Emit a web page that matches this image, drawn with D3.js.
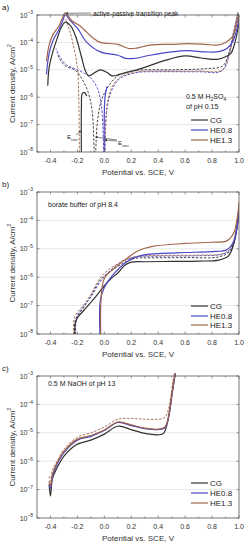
<!DOCTYPE html>
<html>
<head>
<meta charset="utf-8">
<script src="https://cdn.jsdelivr.net/npm/d3@7"></script>
<style>
  body{margin:0;background:#fff;}
  svg{display:block;font-family:"Liberation Sans",Arial,sans-serif;}
</style>
</head>
<body>
<svg id="chart" width="247" height="550"></svg>
<script>
// ---- data (potential V vs SCE, current density A/cm2) ----
const xTicks = [-0.4, -0.2, 0.0, 0.2, 0.4, 0.6, 0.8, 1.0];
const yExps = [-3, -4, -5, -6, -7, -8];
const seriesNames = ['CG', 'HE0.8', 'HE1.3'];
const seriesColors = ['#333333', '#4b46c6', '#a0644a'];

// panel a: 0.5 M H2SO4
const aCG = [[-0.42,2.6e-6],[-0.41,1.2e-5],[-0.38,5e-5],[-0.35,1.4e-4],[-0.32,3.5e-4],[-0.29,5.5e-4],[-0.25,4e-4],[-0.21,1.5e-4],[-0.17,3e-5],[-0.14,9e-6],[-0.115,6e-6],[-0.07,8e-6],[-0.03,1e-5],[0.02,8e-6],[0.06,6e-6],[0.12,7e-6],[0.27,1.1e-5],[0.45,2.2e-5],[0.6,3.2e-5],[0.72,2.7e-5],[0.84,2.4e-5],[0.9,3e-5],[0.94,4e-5],[0.97,1e-4],[1.0,5e-4]];
const aHE08 = [[-0.43,6.8e-6],[-0.41,4e-5],[-0.38,1.2e-4],[-0.34,2.8e-4],[-0.31,6e-4],[-0.29,1e-3],[-0.25,6e-4],[-0.2,3.3e-4],[-0.13,1e-4],[-0.03,4.5e-5],[0.1,3.4e-5],[0.16,2.6e-5],[0.22,2.6e-5],[0.34,3.4e-5],[0.5,4.5e-5],[0.62,5e-5],[0.75,4.5e-5],[0.85,4.6e-5],[0.91,6e-5],[0.95,1e-4],[0.98,2.5e-4],[1.0,8e-4]];
const aHE13 = [[-0.43,2e-5],[-0.41,8e-5],[-0.38,2e-4],[-0.34,3.8e-4],[-0.31,8e-4],[-0.29,1.2e-3],[-0.24,6e-4],[-0.18,4e-4],[-0.08,1.4e-4],[-0.03,1e-4],[0.1,8.5e-5],[0.18,6e-5],[0.24,6.2e-5],[0.34,8e-5],[0.5,8.5e-5],[0.62,9e-5],[0.75,8.5e-5],[0.84,8e-5],[0.9,1e-4],[0.95,1.6e-4],[0.98,4e-4],[1.0,1.1e-3]];
const aCGrev = [[1.0,1.2e-3],[0.97,3e-4],[0.93,5e-5],[0.88,1.4e-5],[0.75,1.1e-5],[0.5,1e-5],[0.3,1e-5],[0.2,9e-6],[0.1,6e-6],[0.03,2.5e-6],[-0.02,8e-7],[-0.05,1.5e-7],[-0.07,5e-9],[-0.09,3e-7],[-0.12,1.5e-6],[-0.17,5e-6],[-0.22,1e-5],[-0.28,1.3e-5],[-0.32,2e-5],[-0.35,4e-5]];
const aHE08rev = [[1.0,1.6e-3],[0.96,2.5e-4],[0.92,3e-5],[0.87,9e-6],[0.7,8.5e-6],[0.4,8.5e-6],[0.25,8e-6],[0.12,5e-6],[0.06,2e-6],[0.02,4e-7],[0.0,5e-9],[-0.02,4e-7],[-0.05,2e-6],[-0.1,5e-6],[-0.16,8e-6],[-0.22,1.1e-5],[-0.28,1.5e-5],[-0.33,3e-5],[-0.36,6e-5]];
const aHE13rev = [[1.0,2e-3],[0.97,4e-4],[0.93,4e-5],[0.88,1e-5],[0.7,9e-6],[0.4,9e-6],[0.25,8.5e-6],[0.12,5.5e-6],[0.06,2.5e-6],[0.02,5e-7],[0.005,5e-9]];
const aHE13cat = [[-0.185,5e-9],[-0.19,1e-6],[-0.2,1.2e-5],[-0.23,8e-5],[-0.26,3e-4],[-0.29,8e-4]];
const aCGecorr = [[-0.17,5e-9],[-0.17,5e-7],[-0.165,1.3e-6],[-0.15,1.5e-6],[-0.13,1.1e-6]];
const aHE08ecorr = [[0.0,5e-9],[0.0,3e-7],[0.005,1e-6],[0.02,2.5e-6]];

// panel b: borate buffer pH 8.4
const bCG = [[-0.215,5e-9],[-0.21,3e-8],[-0.15,7e-8],[-0.1,1.3e-7],[-0.05,2.5e-7],[0.0,5e-7],[0.05,9e-7],[0.1,1.4e-6],[0.15,2.6e-6],[0.2,3.4e-6],[0.3,3.5e-6],[0.5,3.6e-6],[0.7,3.7e-6],[0.85,4e-6],[0.92,5.5e-6],[0.96,1.4e-5],[0.99,8e-5],[1.0,2.5e-4]];
const bHE08 = [[-0.03,5e-9],[-0.03,1.5e-7],[0.0,4.3e-7],[0.07,1.3e-6],[0.17,3.6e-6],[0.27,5.8e-6],[0.4,6.8e-6],[0.6,7.4e-6],[0.8,8e-6],[0.91,9.3e-6],[0.96,1.8e-5],[0.99,8e-5],[1.0,2e-4]];
const bHE13 = [[-0.025,5e-9],[-0.025,1.5e-7],[0.0,9e-7],[0.07,2e-6],[0.17,4.7e-6],[0.25,8.5e-6],[0.35,1.2e-5],[0.6,1.55e-5],[0.8,1.7e-5],[0.91,1.9e-5],[0.96,3.5e-5],[0.99,1.5e-4],[1.0,4.5e-4]];
const bCGrev = [[-0.22,5e-9],[-0.215,3e-8],[-0.15,9e-8],[-0.1,2.2e-7],[-0.02,9e-7],[0.1,2.4e-6],[0.22,4.5e-6],[0.35,4.8e-6],[0.6,4.9e-6],[0.85,5.2e-6],[0.93,8e-6],[0.97,2.5e-5],[1.0,2e-4]];
const bHE08rev = [[-0.21,5e-9],[-0.205,4e-8],[-0.15,1e-7],[-0.1,2e-7],[-0.02,8e-7],[0.1,2.8e-6],[0.22,5e-6],[0.4,5.5e-6],[0.7,5.7e-6],[0.88,6.5e-6],[0.94,1e-5],[0.98,4e-5],[1.0,1.5e-4]];
const bHE13rev = [[-0.225,5e-9],[-0.22,4e-8],[-0.15,1.1e-7],[-0.1,2.5e-7],[-0.02,1.1e-6],[0.1,3e-6],[0.22,5.2e-6],[0.4,5.8e-6],[0.7,6e-6],[0.88,6.8e-6],[0.94,1.1e-5],[0.98,5e-5],[1.0,3e-4]];

// panel c: 0.5 M NaOH pH 13
const cCG = [[-0.41,1.5e-7],[-0.4,6e-8],[-0.385,2.5e-7],[-0.35,6e-7],[-0.3,1.5e-6],[-0.25,2.7e-6],[-0.2,4e-6],[-0.1,5.5e-6],[0.0,9e-6],[0.1,1.7e-5],[0.2,1.3e-5],[0.3,9.5e-6],[0.4,8.5e-6],[0.44,9.5e-6],[0.47,2.5e-5],[0.5,2e-4],[0.53,1.5e-3]];
const cHE08 = [[-0.41,1.6e-7],[-0.4,1.1e-7],[-0.385,3e-7],[-0.35,8e-7],[-0.3,2e-6],[-0.2,5.5e-6],[-0.1,7.5e-6],[0.0,1.2e-5],[0.1,2.3e-5],[0.2,1.8e-5],[0.3,1.4e-5],[0.4,1.3e-5],[0.45,1.5e-5],[0.48,4e-5],[0.51,4e-4],[0.53,1.5e-3]];
const cHE13 = [[-0.41,2e-7],[-0.4,1.3e-7],[-0.385,3.5e-7],[-0.35,9e-7],[-0.3,2.2e-6],[-0.2,6e-6],[-0.1,8e-6],[0.0,1.25e-5],[0.1,2.4e-5],[0.2,1.9e-5],[0.3,1.45e-5],[0.4,1.35e-5],[0.45,1.6e-5],[0.48,4.5e-5],[0.51,4.5e-4],[0.53,1.5e-3]];
const cHE13rev = [[-0.41,3e-7],[-0.4,2e-7],[-0.385,5e-7],[-0.35,1e-6],[-0.3,2.6e-6],[-0.2,7e-6],[-0.1,1e-5],[0.0,1.6e-5],[0.1,3e-5],[0.2,3.2e-5],[0.3,3e-5],[0.4,3e-5],[0.45,3.5e-5],[0.48,8e-5],[0.51,7e-4],[0.53,2e-3]];

const panels = [
  {label:'a)', top:15, bottom:152, legendY:[120,130,140],
   solid:[[aCG,0],[aHE08,1],[aHE13,2],[aCGecorr,0],[aHE08ecorr,1]],
   dashed:[[aCGrev,0],[aHE08rev,1],[aHE13rev,2],[aHE13cat,2]]},
  {label:'b)', top:192, bottom:334, legendY:[306,316,325],
   solid:[[bCG,0],[bHE08,1],[bHE13,2]],
   dashed:[[bCGrev,0],[bHE08rev,1],[bHE13rev,2]]},
  {label:'c)', top:376, bottom:518, legendY:[483,493,503],
   solid:[[cCG,0],[cHE08,1],[cHE13,2]],
   dashed:[[cHE13rev,2]]}
];

const svg = d3.select('#chart');
const left = 37, right = 239;
const x = d3.scaleLinear().domain([-0.5, 1.0]).range([left, right]);
const defs = svg.append('defs');
defs.append('marker').attr('id','arr').attr('viewBox','0 0 6 6').attr('refX',5).attr('refY',3)
  .attr('markerWidth',4).attr('markerHeight',4).attr('orient','auto')
  .append('path').attr('d','M0,0L6,3L0,6Z').attr('fill','#333');

function supLabel(sel, base, sup, fs){
  sel.append('tspan').text(base);
  sel.append('tspan').attr('dy', -fs*0.45).attr('font-size', fs*0.7).text(sup);
}

panels.forEach((p, pi) => {
  const y = d3.scaleLog().domain([1e-8, 1e-3]).range([p.bottom, p.top]);
  const g = svg.append('g');
  const clipId = 'clip' + pi;
  defs.append('clipPath').attr('id', clipId).append('rect')
    .attr('x', left).attr('y', p.top - 3).attr('width', right - left).attr('height', p.bottom - p.top + 3);

  // grid
  g.selectAll('line.grid').data(yExps.slice(1, -1)).join('line')
    .attr('x1', left).attr('x2', right)
    .attr('y1', e => y(Math.pow(10, e))).attr('y2', e => y(Math.pow(10, e)))
    .attr('stroke', '#dcdcdc').attr('stroke-width', 0.7);

  // curves
  const line = d3.line().x(d => x(d[0])).y(d => y(d[1])).curve(d3.curveCatmullRom.alpha(0.5));
  const cg = g.append('g').attr('clip-path', `url(#${clipId})`);
  p.dashed.forEach(([data, ci]) => {
    cg.append('path').attr('d', line(data)).attr('fill', 'none')
      .attr('stroke', seriesColors[ci]).attr('stroke-width', 0.9).attr('stroke-dasharray', '2.5,1.5');
  });
  p.solid.forEach(([data, ci]) => {
    cg.append('path').attr('d', line(data)).attr('fill', 'none')
      .attr('stroke', seriesColors[ci]).attr('stroke-width', 1.2);
  });

  // frame
  g.append('rect').attr('x', left).attr('y', p.top).attr('width', right - left).attr('height', p.bottom - p.top)
    .attr('fill', 'none').attr('stroke', '#555').attr('stroke-width', 0.8);

  // ticks (inward)
  const minor = d3.range(-0.5, 1.001, 0.1);
  minor.forEach(v => {
    const major = xTicks.some(t => Math.abs(t - v) < 1e-6);
    const len = major ? 2.5 : 1.5;
    g.append('line').attr('x1', x(v)).attr('x2', x(v)).attr('y1', p.bottom).attr('y2', p.bottom - len).attr('stroke', '#555').attr('stroke-width', 0.6);
    g.append('line').attr('x1', x(v)).attr('x2', x(v)).attr('y1', p.top).attr('y2', p.top + len).attr('stroke', '#555').attr('stroke-width', 0.6);
  });
  yExps.forEach(e => {
    const yy = y(Math.pow(10, e));
    g.append('line').attr('x1', left).attr('x2', left + 2.5).attr('y1', yy).attr('y2', yy).attr('stroke', '#555').attr('stroke-width', 0.6);
    g.append('line').attr('x1', right).attr('x2', right - 2.5).attr('y1', yy).attr('y2', yy).attr('stroke', '#555').attr('stroke-width', 0.6);
    const t = g.append('text').attr('x', 33).attr('y', yy + 2.5).attr('text-anchor', 'end')
      .attr('font-size', 7).attr('fill', '#333');
    supLabel(t, '10', String(e).replace('-', '\u2212'), 7);
  });

  // x tick labels
  g.selectAll('text.xt').data(xTicks).join('text')
    .attr('x', d => x(d)).attr('y', p.bottom + 11).attr('text-anchor', 'middle')
    .attr('font-size', 7).attr('fill', '#333')
    .text(d => (d < 0 ? '-' : '') + Math.abs(d).toFixed(1));

  g.append('text').attr('x', (left + right) / 2).attr('y', p.bottom + 23).attr('text-anchor', 'middle')
    .attr('font-size', 8).attr('fill', '#333').text('Potential vs. SCE, V');

  const yt = g.append('text').attr('transform', `translate(15,${(p.top + p.bottom) / 2}) rotate(-90)`)
    .attr('text-anchor', 'middle').attr('font-size', 8).attr('fill', '#333');
  supLabel(yt, 'Current density, A/cm', '2', 8);

  g.append('text').attr('x', 2).attr('y', p.top - 5).attr('font-size', 8).attr('fill', '#222').text(p.label);

  // legend
  seriesNames.forEach((name, i) => {
    const ly = p.legendY[i];
    g.append('line').attr('x1', 191).attr('x2', 208).attr('y1', ly).attr('y2', ly)
      .attr('stroke', seriesColors[i]).attr('stroke-width', 1.2);
    g.append('text').attr('x', 210).attr('y', ly + 3).attr('font-size', 8).attr('fill', '#222').text(name);
  });
});

// panel a annotations
const ya = d3.scaleLog().domain([1e-8, 1e-3]).range([152, 15]);
const txt = svg.append('text').attr('x', 186).attr('y', 99).attr('font-size', 7).attr('fill', '#222');
txt.append('tspan').text('0.5 M H');
txt.append('tspan').attr('dy', 1.5).attr('font-size', 5).text('2');
txt.append('tspan').attr('dy', -1.5).text('SO');
txt.append('tspan').attr('dy', 1.5).attr('font-size', 5).text('4');
svg.append('text').attr('x', 186).attr('y', 109).attr('font-size', 7).attr('fill', '#222').text('of pH 0.15');

svg.append('text').attr('x', 93).attr('y', 15.5).attr('font-size', 6.5).attr('fill', '#222').text('active-passive transition peak');
svg.append('line').attr('x1', 91).attr('y1', 13).attr('x2', x(-0.285)).attr('y2', ya(1.15e-3))
  .attr('stroke', '#333').attr('stroke-width', 0.6).attr('marker-end', 'url(#arr)');

function ecorr(xp, yp){
  const t = svg.append('text').attr('x', xp).attr('y', yp).attr('font-size', 6).attr('fill', '#222');
  t.append('tspan').text('E');
  t.append('tspan').attr('dy', 1.5).attr('font-size', 4).text('corr');
}
ecorr(67, 139);
svg.append('line').attr('x1', 76).attr('y1', 135).attr('x2', x(-0.175)).attr('y2', 131)
  .attr('stroke', '#333').attr('stroke-width', 0.6).attr('marker-end', 'url(#arr)');
ecorr(118, 145);
svg.append('line').attr('x1', 117).attr('y1', 140).attr('x2', x(-0.065)).attr('y2', 137)
  .attr('stroke', '#333').attr('stroke-width', 0.6).attr('marker-end', 'url(#arr)');
svg.append('line').attr('x1', 117).attr('y1', 141).attr('x2', x(0.005)).attr('y2', 140)
  .attr('stroke', '#333').attr('stroke-width', 0.6).attr('marker-end', 'url(#arr)');

// panel text b, c
svg.append('text').attr('x', 48).attr('y', 207).attr('font-size', 7).attr('fill', '#222').text('borate buffer of pH 8.4');
svg.append('text').attr('x', 48).attr('y', 386).attr('font-size', 7).attr('fill', '#222').text('0.5 M NaOH of pH 13');
</script>
</body>
</html>
